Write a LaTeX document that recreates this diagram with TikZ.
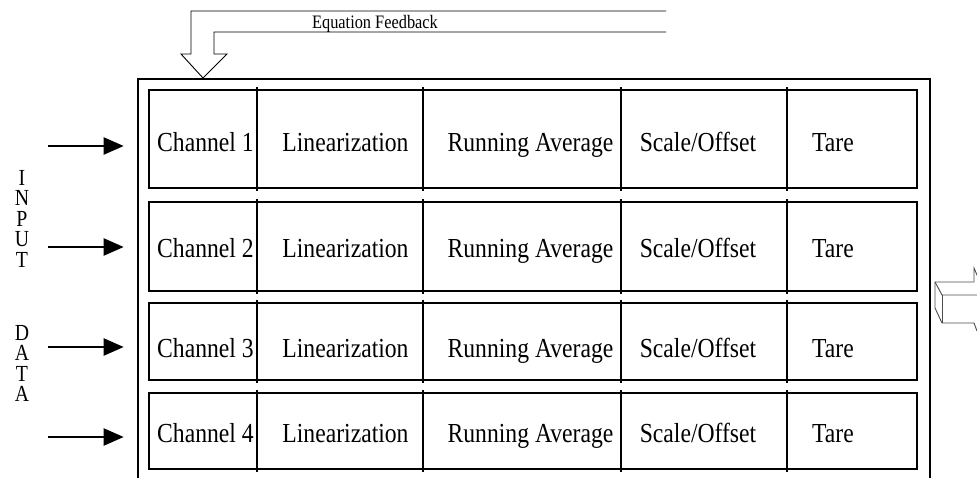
\documentclass[tikz,border=0pt]{standalone}
\usepackage{fontspec}
\setmainfont[FakeStretch=0.86]{Liberation Serif}
\usetikzlibrary{arrows.meta}
\begin{document}
\begin{tikzpicture}[x=1pt,y=-1pt,
  rowbox/.style={draw,line width=2.6pt,inner sep=0pt,minimum width=768pt},
  divider/.style={line width=2pt},
  cell/.style={font=\fontsize{27.5}{30}\selectfont,anchor=base,inner sep=0pt},
  inarrow/.style={line width=2.2pt,-{Triangle[length=20pt,width=17pt]}},
  outerbox/.style={line width=2.8pt},
  thinline/.style={line width=0.9pt},
  blockline/.style={line width=0.9pt,draw=black!70},
  letters/.style={font=\fontsize{23}{20.5}\selectfont,align=center,anchor=north,inner sep=0pt}]
\useasboundingbox (0,0) rectangle (977,477);
% outer frame
\draw[outerbox] (138,485) -- (138,79) -- (930,79) -- (930,485);
% rows
\foreach \i/\ya/\yb/\bl/\ay in {1/90/188/151/146, 2/202/291/257/247, 3/303/380/357/347, 4/393/469/442/437}{
  \node[rowbox, minimum height={\yb-\ya}] (r\i) at (533,{(\ya+\yb)/2}) {};
  \foreach \x in {257,423,621,787} \draw[divider] (\x,\ya-3) -- (\x,\yb+3);
  \node[cell,anchor=base west] (ch\i) at (157,\bl) {Channel \i};
  \node[cell] (lin\i) at (345.5,\bl) {Linearization};
  \node[cell] (ra\i) at (530.5,\bl) {Running Average};
  \node[cell] (so\i) at (698,\bl) {Scale/Offset};
  \node[cell] (ta\i) at (833,\bl) {Tare};
  \coordinate (in\i) at (48,\ay);
  \draw[inarrow] (in\i) -- ([xshift=-24pt]r\i.west |- in\i);
}
% INPUT DATA
\node[letters] (inp) at (22,170) {I\\N\\P\\U\\T};
\node[letters] (dat) at (22,325) {D\\A\\T\\A};
% feedback arrow
\draw[thinline] (666,11) -- (191,11) -- (191,54) -- (181,54) -- (203,78) -- (227,54) -- (214,54) -- (214,32) -- (666,32);
\node[font=\fontsize{19}{20}\selectfont, anchor=base, inner sep=0pt] (fb) at (375,28) {Equation Feedback};
% output 3D block arrow
\draw[blockline] (974,282) -- (935,282) -- (935,308) -- (942,323) -- (974,323) -- (977,331);
\draw[blockline] (935,282) -- (942,295) -- (980,295);
\draw[blockline] (942,295) -- (942,323);
\draw[blockline] (974,282) -- (974,268) -- (980,282);
\end{tikzpicture}
\end{document}
